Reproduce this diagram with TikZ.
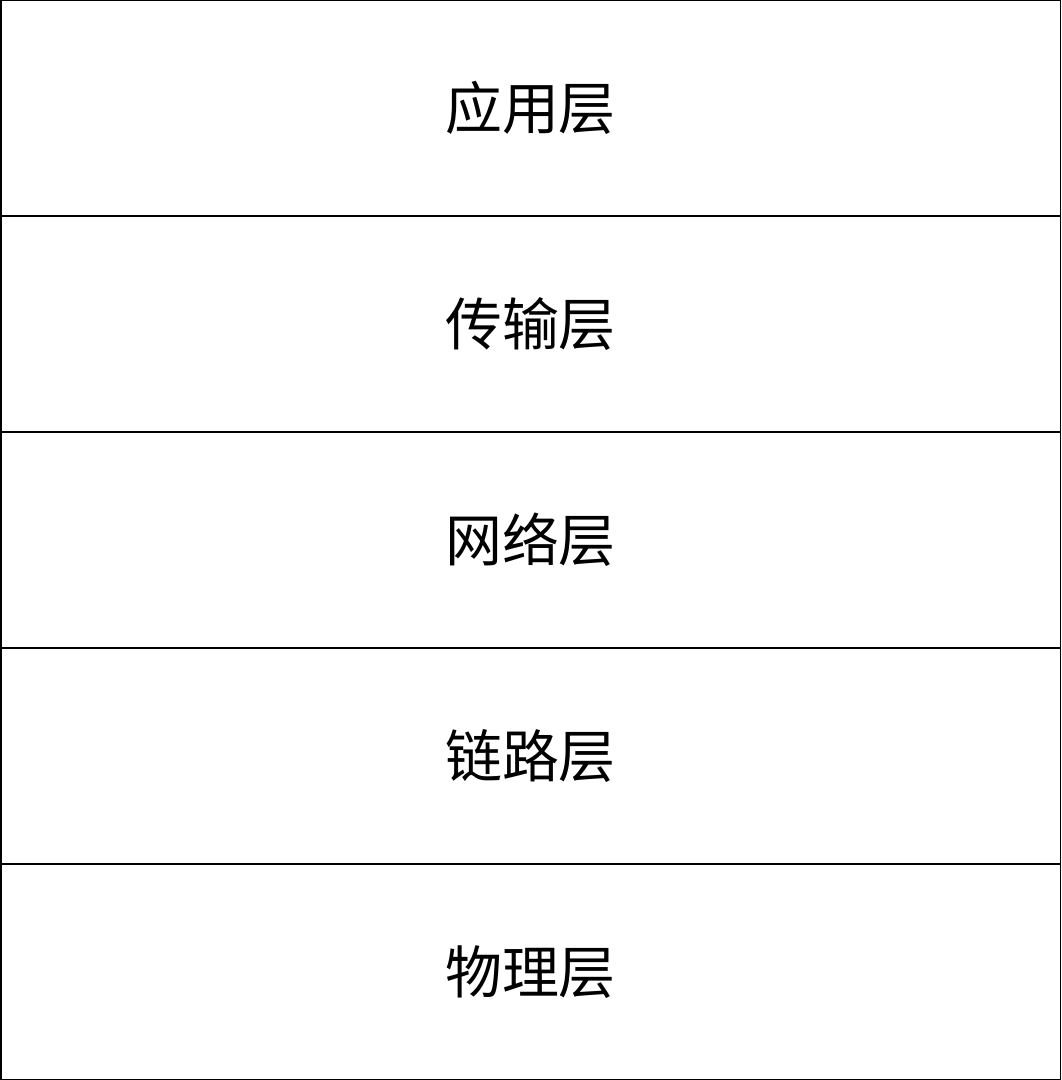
\documentclass[tikz,border=0pt]{standalone}
\usepackage{fontspec}
\newfontfamily\cjk{Noto Sans CJK SC}
\begin{document}
\begin{tikzpicture}[line join=round, line cap=round,
	layer/.style={draw, line width=0.43pt, outer sep=0pt, inner sep=0pt, minimum width=10.595cm, minimum height=2.16cm, font=\cjk\fontsize{16.2}{19}\selectfont}]
	\def\w{10.61} \def\h{2.16}
	\useasboundingbox (0,0) rectangle (\w,-5*\h);
	\foreach \name/\txt [count=\i] in {app/应用层, trans/传输层, net/网络层, link/链路层, phy/物理层}
		\node[layer] (\name) at (\w/2, {-(\i-0.5)*\h}) {\txt};
\end{tikzpicture}
\end{document}
